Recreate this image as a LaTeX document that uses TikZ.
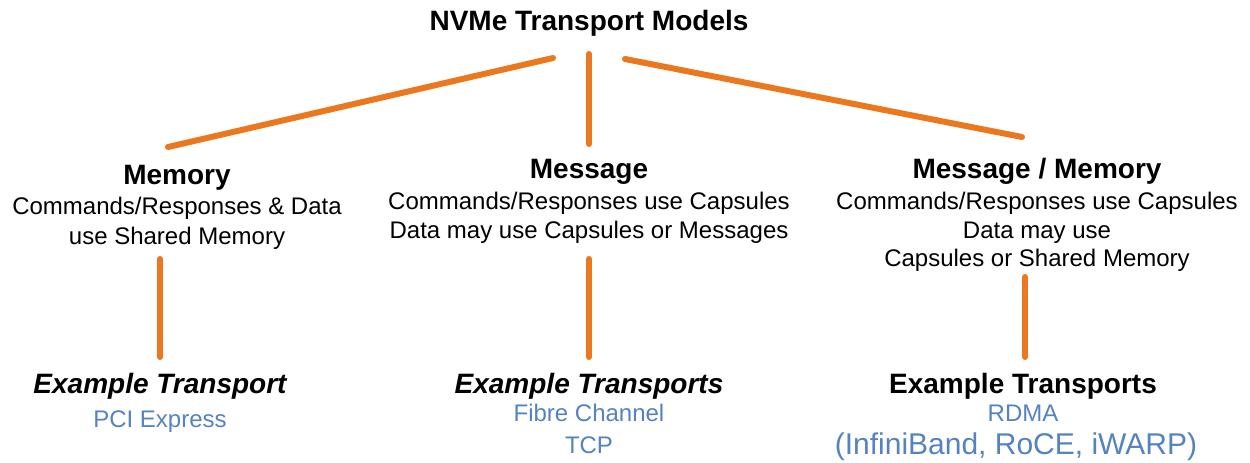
\documentclass[tikz,border=0pt]{standalone}
\usepackage{fontspec}
\setmainfont{Liberation Sans}
\definecolor{lineorange}{RGB}{235,120,30}
\definecolor{linkblue}{RGB}{84,131,191}
\begin{document}
\begin{tikzpicture}[x=0.75pt,y=-0.75pt,
  link/.style={draw=lineorange,line width=4.5pt,line cap=round},
  hdr/.style={anchor=base,inner sep=0pt,font=\fontsize{21}{25}\selectfont\bfseries},
  body/.style={anchor=base,inner sep=0pt,font=\fontsize{18}{22}\selectfont},
  ex/.style={anchor=base,inner sep=0pt,text=linkblue,font=\fontsize{18}{22}\selectfont},
  exbig/.style={anchor=base,inner sep=0pt,text=linkblue,font=\fontsize{22.5}{27}\selectfont}]
\useasboundingbox (0,0) rectangle (1250,462);

% title
\node[hdr] (title) at (589,30) {NVMe Transport Models};

% column 1: Memory
\node[hdr]  (mem)   at (177,184) {Memory};
\node[body] (mem1)  at (177,214) {Commands/Responses \& Data};
\node[body] (mem2)  at (177,244) {use Shared Memory};
\node[hdr]  (exmem) at (160,393) {\itshape Example Transport};
\node[ex]   (pci)   at (160,427) {PCI Express};

% column 2: Message
\node[hdr]  (msg)   at (589,178) {Message};
\node[body] (msg1)  at (589,209) {Commands/Responses use Capsules};
\node[body] (msg2)  at (589,238) {Data may use Capsules or Messages};
\node[hdr]  (exmsg) at (589,393) {\itshape Example Transports};
\node[ex]   (fc)    at (589,421) {Fibre Channel};
\node[ex]   (tcp)   at (589,453) {TCP};

% column 3: Message / Memory
\node[hdr]  (mm)    at (1037,178) {Message / Memory};
\node[body] (mm1)   at (1037,209) {Commands/Responses use Capsules};
\node[body] (mm2)   at (1037,238) {Data may use};
\node[body] (mm3)   at (1037,266) {Capsules or Shared Memory};
\node[hdr]  (exmm)  at (1023,393) {Example Transports};
\node[ex]   (rdma)  at (1023,421) {RDMA};
\node[exbig] (ib)   at (1016,454) {(InfiniBand, RoCE, iWARP)};

% connector end points
\coordinate (tL) at (553,58);
\coordinate (tM) at (589,54);
\coordinate (tR) at (625,59);
\coordinate (memTop) at (168,147);
\coordinate (msgTop) at (589,144);
\coordinate (mmTop)  at (1022,137);
\coordinate (memBot) at (160,259);
\coordinate (memEx)  at (160,357);
\coordinate (msgBot) at (589,259);
\coordinate (msgEx)  at (589,357);
\coordinate (mmBot)  at (1025,277);
\coordinate (mmEx)   at (1025,357);

\draw[link] (tL) -- (memTop);
\draw[link] (tM) -- (msgTop);
\draw[link] (tR) -- (mmTop);
\draw[link] (memBot) -- (memEx);
\draw[link] (msgBot) -- (msgEx);
\draw[link] (mmBot) -- (mmEx);
\end{tikzpicture}
\end{document}
